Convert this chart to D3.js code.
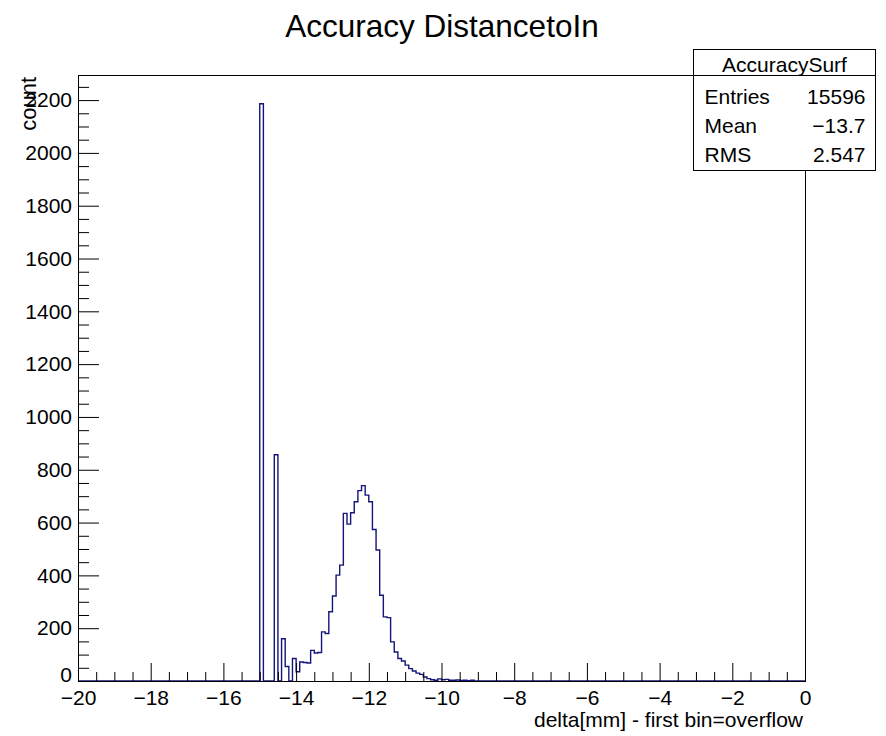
<!DOCTYPE html>
<html>
<head>
<meta charset="utf-8">
<script src="https://cdn.jsdelivr.net/npm/d3@7"></script>
<style>
  body { margin: 0; background: #fff; }
  text { font-family: "Liberation Sans", Arial, sans-serif; fill: #000; }
</style>
</head>
<body>
<div id="chart"></div>
<script>
// histogram bins (low edge, count); all other bins are empty
const binLowEdges = [-15.0, -14.6, -14.4, -14.3, -14.1, -14.0, -13.9, -13.8, -13.7, -13.6,
  -13.5, -13.4, -13.3, -13.2, -13.1, -13.0, -12.9, -12.8, -12.7, -12.6,
  -12.5, -12.4, -12.3, -12.2, -12.1, -12.0, -11.9, -11.8, -11.7, -11.6,
  -11.5, -11.4, -11.3, -11.2, -11.1, -11.0, -10.9, -10.8, -10.7, -10.6,
  -10.5, -10.4, -10.3, -10.2, -10.1, -10.0, -9.9, -9.8, -9.7, -9.6,
  -9.5, -9.4, -9.3, -9.2];
const binCounts = [2186, 857, 160, 55, 85, 35, 72, 70, 68, 116,
  106, 108, 186, 180, 262, 322, 401, 439, 635, 594,
  637, 679, 721, 740, 704, 679, 574, 496, 325, 243,
  240, 148, 110, 85, 76, 60, 47, 38, 30, 25,
  15, 9, 5, 3, 8, 5, 6, 3, 3, 4,
  2, 3, 1, 3];
const binWidth = 0.1;

const xTicksMajor = [-20, -18, -16, -14, -12, -10, -8, -6, -4, -2, 0];
const yTicksMajor = [0, 200, 400, 600, 800, 1000, 1200, 1400, 1600, 1800, 2000, 2200];

const statsTitle = "AccuracySurf";
const statsNames = ["Entries", "Mean", "RMS"];
const statsValues = ["15596", "\u221213.7", "2.547"];

const W = 886, H = 736;
const frame = { left: 78, top: 75, right: 805, bottom: 681 };

const svg = d3.select("#chart").append("svg")
    .attr("width", W)
    .attr("height", H);

const x = d3.scaleLinear().domain([-20, 0]).range([frame.left, frame.right]);
const y = d3.scaleLinear().domain([0, 2295]).range([frame.bottom, frame.top]);

// title
svg.append("text")
    .attr("x", 442).attr("y", 37)
    .attr("text-anchor", "middle")
    .attr("font-size", "31.5px")
    .text("Accuracy DistancetoIn");

// histogram outline (drawn under the frame so the axis line stays black)
const countAt = new Map(binLowEdges.map((lo, i) => [Math.round(lo * 10), binCounts[i]]));
const pts = [];
for (let k = -200; k < 0; k++) {
    const c = countAt.get(k) || 0;
    pts.push([k / 10, c], [k / 10 + binWidth, c]);
}
const line = d3.line().x(d => x(d[0])).y(d => y(d[1]));
svg.append("path")
    .datum(pts)
    .attr("d", line)
    .attr("fill", "none")
    .attr("stroke", "#14147a")
    .attr("stroke-width", 1.4);

// minor ticks
const xMinor = d3.range(-20, 0.001, 0.5).filter(v => !xTicksMajor.includes(v));
const yMinor = d3.range(0, 2295, 50).filter(v => !yTicksMajor.includes(v));

svg.append("g")
    .attr("transform", `translate(0,${frame.bottom})`)
    .call(d3.axisBottom(x).tickValues(xMinor).tickSize(-9).tickFormat(""))
    .call(g => g.select(".domain").remove());

svg.append("g")
    .attr("transform", `translate(${frame.left},0)`)
    .call(d3.axisLeft(y).tickValues(yMinor).tickSize(-11).tickFormat(""))
    .call(g => g.select(".domain").remove());

// major ticks + labels
const xAxis = svg.append("g")
    .attr("transform", `translate(0,${frame.bottom})`)
    .call(d3.axisBottom(x).tickValues(xTicksMajor).tickSize(-18).tickPadding(9).tickFormat(d3.format("d")))
    .call(g => g.select(".domain").remove());
xAxis.selectAll("text").attr("font-size", "21px").attr("font-family", null);

const yAxis = svg.append("g")
    .attr("transform", `translate(${frame.left},0)`)
    .call(d3.axisLeft(y).tickValues(yTicksMajor).tickSize(-21).tickPadding(6).tickFormat(d3.format("d")))
    .call(g => g.select(".domain").remove());
yAxis.selectAll("text").attr("font-size", "21px").attr("font-family", null)
    .filter(d => d === 0).attr("y", -6);

svg.selectAll(".tick line").attr("stroke", "#000");

// frame
svg.append("rect")
    .attr("x", frame.left + 0.5).attr("y", frame.top + 0.5)
    .attr("width", frame.right - frame.left).attr("height", frame.bottom - frame.top)
    .attr("fill", "none").attr("stroke", "#000");

// axis titles
svg.append("text")
    .attr("x", 803).attr("y", 727)
    .attr("text-anchor", "end")
    .attr("font-size", "21px")
    .text("delta[mm] - first bin=overflow");

svg.append("text")
    .attr("transform", "translate(36,77) rotate(-90)")
    .attr("text-anchor", "end")
    .attr("font-size", "22px")
    .text("count");

// stats box
const box = svg.append("g").attr("transform", "translate(693.5,49.5)");
box.append("rect")
    .attr("width", 182).attr("height", 121)
    .attr("fill", "#fff").attr("stroke", "#000");
box.append("line")
    .attr("x1", 0).attr("x2", 182).attr("y1", 26).attr("y2", 26)
    .attr("stroke", "#000");
box.append("text")
    .attr("x", 91).attr("y", 22)
    .attr("text-anchor", "middle")
    .attr("font-size", "21px")
    .text(statsTitle);
box.selectAll(".sname").data(statsNames).join("text")
    .attr("class", "sname")
    .attr("x", 11).attr("y", (d, i) => 54 + i * 29)
    .attr("font-size", "21px")
    .text(d => d);
box.selectAll(".sval").data(statsValues).join("text")
    .attr("class", "sval")
    .attr("x", 172).attr("y", (d, i) => 54 + i * 29)
    .attr("text-anchor", "end")
    .attr("font-size", "21px")
    .text(d => d);
</script>
</body>
</html>
